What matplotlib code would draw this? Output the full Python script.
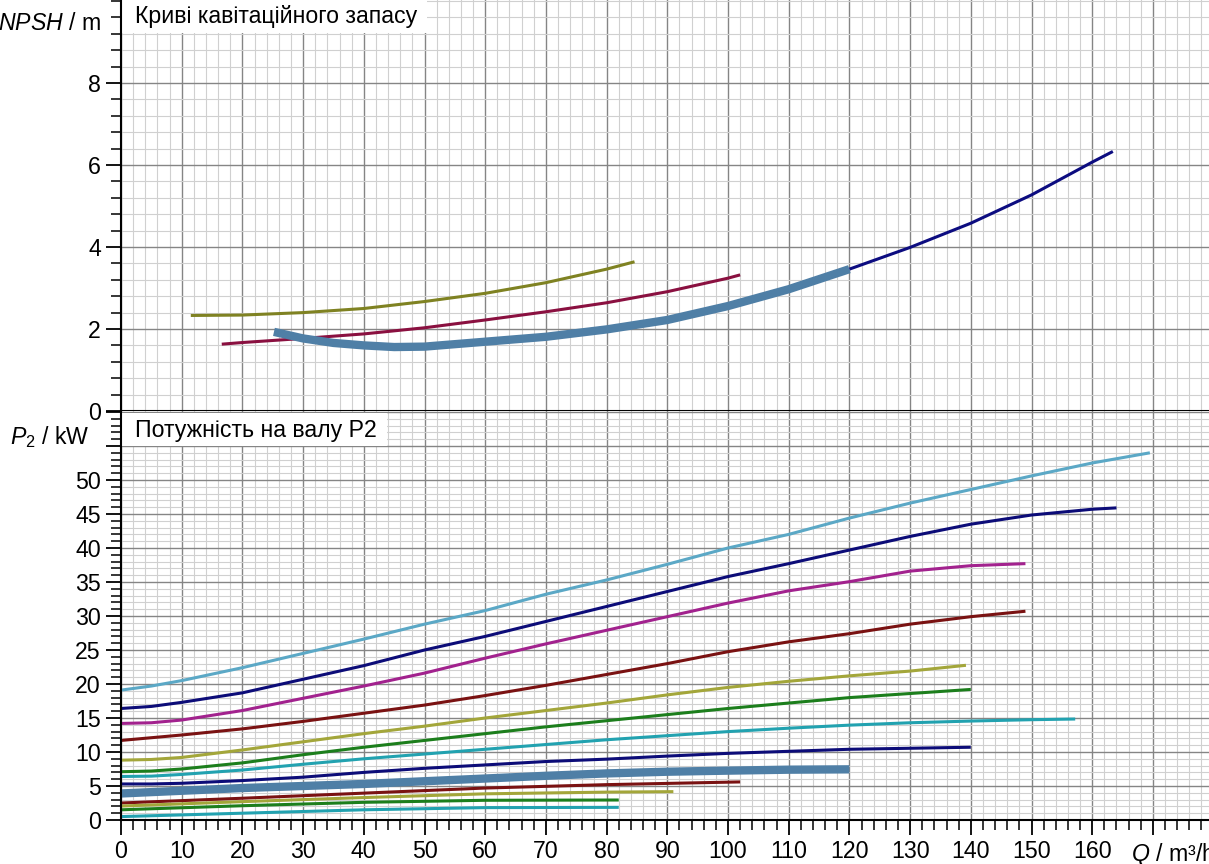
import matplotlib
matplotlib.use("Agg")
import matplotlib.pyplot as plt
from matplotlib.patches import Rectangle
import numpy as np

plt.rcParams['font.family'] = ['Liberation Sans', 'DejaVu Sans']
plt.rcParams['mathtext.fontset'] = 'custom'
plt.rcParams['mathtext.rm'] = 'Liberation Sans'
plt.rcParams['mathtext.it'] = 'Liberation Sans:italic'

# ---- NPSH curves (Q m3/h, NPSH m) ----
npsh_olive_q = [11.5, 20, 30, 40, 50, 60, 70, 80, 84.6]
npsh_olive_v = [2.33, 2.34, 2.40, 2.50, 2.67, 2.87, 3.13, 3.46, 3.64]
npsh_maroon_q = [16.6, 20, 30, 40, 50, 60, 70, 80, 90, 100, 102]
npsh_maroon_v = [1.63, 1.67, 1.77, 1.88, 2.03, 2.22, 2.42, 2.64, 2.91, 3.24, 3.32]
npsh_steel_q = [25.2, 30, 35, 40, 45, 50, 60, 70, 80, 90, 100, 110, 120]
npsh_steel_v = [1.93, 1.77, 1.66, 1.60, 1.56, 1.57, 1.69, 1.81, 1.99, 2.22, 2.56, 2.97, 3.46]
npsh_navy_q = [120, 130, 140, 150, 160, 163.4]
npsh_navy_v = [3.46, 3.99, 4.58, 5.27, 6.07, 6.33]

# ---- P2 curves (Q m3/h, P2 kW) ----
q_full = [0, 5, 10, 20, 30, 40, 50, 60, 70, 80, 90, 100, 110, 120, 130, 140, 150, 160]
p_lightblue_q = q_full + [169.5]
p_lightblue = [19.1, 19.7, 20.5, 22.4, 24.5, 26.6, 28.8, 30.8, 33.2, 35.3, 37.6, 40.0, 42.0, 44.4, 46.6, 48.6, 50.6, 52.5, 54.0]
p_navy_q = q_full + [164]
p_navy = [16.4, 16.7, 17.3, 18.7, 20.7, 22.7, 25.0, 27.0, 29.2, 31.4, 33.6, 35.8, 37.7, 39.7, 41.7, 43.5, 44.85, 45.7, 45.9]
p_magenta_q = q_full[:16] + [149]
p_magenta = [14.2, 14.3, 14.7, 16.1, 17.9, 19.7, 21.6, 23.8, 25.9, 27.9, 29.9, 31.9, 33.7, 35.05, 36.6, 37.4, 37.7]
p_darkred_q = q_full[:16] + [149]
p_darkred = [11.7, 12.1, 12.5, 13.4, 14.5, 15.7, 16.9, 18.3, 19.8, 21.4, 23.0, 24.75, 26.2, 27.4, 28.8, 29.9, 30.7]
p_olive_q = q_full[:15] + [139.2]
p_olive = [8.8, 8.9, 9.2, 10.3, 11.5, 12.7, 13.8, 15.0, 16.1, 17.2, 18.4, 19.5, 20.4, 21.2, 21.9, 22.75]
p_green_q = q_full[:16]
p_green = [7.1, 7.2, 7.5, 8.4, 9.6, 10.7, 11.7, 12.7, 13.7, 14.6, 15.5, 16.4, 17.2, 18.0, 18.6, 19.2]
p_teal_q = q_full[:17] + [157.2]
p_teal = [6.4, 6.45, 6.7, 7.35, 8.2, 9.0, 9.7, 10.4, 11.1, 11.8, 12.4, 13.0, 13.5, 13.95, 14.3, 14.55, 14.75, 14.85]
p_navy2_q = q_full[:16]
p_navy2 = [5.3, 5.3, 5.4, 5.8, 6.3, 7.0, 7.6, 8.1, 8.6, 8.95, 9.4, 9.8, 10.1, 10.4, 10.55, 10.7]
p_steel_q = [0, 10, 20, 30, 40, 50, 60, 70, 80, 90, 100, 110, 120]
p_steel = [3.9, 4.3, 4.7, 5.0, 5.3, 5.7, 6.1, 6.5, 6.85, 7.1, 7.26, 7.4, 7.45]
p_darkred2_q = [0, 20, 40, 60, 80, 102]
p_darkred2 = [2.5, 3.2, 3.95, 4.7, 5.2, 5.6]
p_olive2_q = [0, 20, 40, 60, 80, 91]
p_olive2 = [2.05, 2.7, 3.3, 3.85, 4.1, 4.17]
p_green2_q = [0, 20, 40, 60, 82]
p_green2 = [1.5, 2.1, 2.6, 2.9, 2.94]
p_teal2_q = [0, 20, 40, 60, 82]
p_teal2 = [0.5, 1.0, 1.5, 1.82, 1.86]

x_ticks = list(range(0, 180, 10))
x_labels = [str(v) for v in range(0, 170, 10)] + ['']
npsh_ticks = [0, 2, 4, 6, 8]
p2_ticks = list(range(0, 61, 5))
p2_labels = [str(v) for v in range(0, 51, 5)] + ['', '']

W, H = 1209, 864
fig = plt.figure(figsize=(W / 100, H / 100), dpi=100)
left = 121 / W
ax1 = fig.add_axes([left, 1 - 411 / H, 1 - left, 411 / H])
ax2 = fig.add_axes([left, 44 / H, 1 - left, 409 / H])

fs = 16.7
xmax = 1088 / 6.07
thin = 2.2
for ax in (ax1, ax2):
    ax.set_xlim(0, xmax)
    ax.set_xticks(x_ticks)
    ax.set_xticks(np.arange(0, xmax, 2), minor=True)
    ax.grid(which='major', color='#858585', lw=1.0)
    ax.grid(which='minor', color='#d0d0d0', lw=0.8)
    ax.set_axisbelow(True)
    for s in ('top', 'right'):
        ax.spines[s].set_visible(False)
    for s in ('left', 'bottom'):
        ax.spines[s].set_linewidth(1.5)
        ax.spines[s].set_color('black')
    ax.tick_params(which='major', direction='out', length=11, width=1.3, labelsize=fs, colors='black')
    ax.tick_params(which='minor', direction='out', length=7.5, width=1.1)

# top: NPSH
ax1.set_ylim(0, 411 / 41)
ax1.set_yticks(npsh_ticks)
ax1.set_yticks(np.arange(0, 10.01, 0.4), minor=True)
ax1.tick_params(axis='x', which='both', length=0, labelbottom=False)

ax1.plot(npsh_olive_q, npsh_olive_v, color='#7f8222', lw=thin, solid_capstyle='butt')
ax1.plot(npsh_maroon_q, npsh_maroon_v, color='#8a1040', lw=thin, solid_capstyle='butt')
ax1.plot(npsh_navy_q, npsh_navy_v, color='#0c0c80', lw=thin, solid_capstyle='butt')
ax1.plot(npsh_steel_q, npsh_steel_v, color='#4f7fa6', lw=6, solid_capstyle='butt')

ax1.add_patch(Rectangle((0, 1 - 33 / 411), 306 / 1088, 33 / 411, transform=ax1.transAxes,
                        facecolor='white', edgecolor='none', zorder=1.5))
ax1.text(14 / 1088, 1 - 16 / 411, 'Криві кавітаційного запасу', transform=ax1.transAxes,
         fontsize=fs, ha='left', va='center', zorder=3)

# bottom: P2
ax2.set_ylim(0, 409 / 6.8)
ax2.set_yticks(p2_ticks)
ax2.set_yticklabels(p2_labels)
ax2.set_yticks(np.arange(0, 61, 1), minor=True)
ax2.set_xticklabels(x_labels)

curves = [
    (p_lightblue_q, p_lightblue, '#5ba8c6', thin),
    (p_navy_q, p_navy, '#0c0c78', thin),
    (p_magenta_q, p_magenta, '#a2228e', thin),
    (p_darkred_q, p_darkred, '#7a1212', thin),
    (p_olive_q, p_olive, '#a3a63a', thin),
    (p_green_q, p_green, '#1c7e1c', thin),
    (p_teal_q, p_teal, '#22a2b0', thin),
    (p_navy2_q, p_navy2, '#0c0c78', thin),
    (p_steel_q, p_steel, '#4f7fa6', 6),
    (p_darkred2_q, p_darkred2, '#7a1212', thin),
    (p_olive2_q, p_olive2, '#a3a63a', thin),
    (p_green2_q, p_green2, '#1c7e1c', thin),
    (p_teal2_q, p_teal2, '#22a2b0', thin),
]
for q, p, c, lw in curves:
    ax2.plot(q, p, color=c, lw=lw, solid_capstyle='butt')

ax2.add_patch(Rectangle((0, 1 - 35 / 409), 266 / 1088, 33 / 409, transform=ax2.transAxes,
                        facecolor='white', edgecolor='none', zorder=1.5))
ax2.text(14 / 1088, 1 - 19 / 409, 'Потужність на валу P2', transform=ax2.transAxes,
         fontsize=fs, ha='left', va='center', zorder=3)

# axis labels
fig.text(101 / W, 1 - 24 / H, r'$\mathit{NPSH}$ / m', fontsize=fs, ha='right', va='center')
fig.text(90 / W, 1 - 437 / H, r'$\mathit{P}_\mathrm{2}$ / kW', fontsize=fs, ha='right', va='center')
fig.text(1131 / W, 1 - 855 / H, r'$\mathit{Q}$ / m³/h', fontsize=fs, ha='left', va='center')

fig.savefig('out.png', dpi=100)
